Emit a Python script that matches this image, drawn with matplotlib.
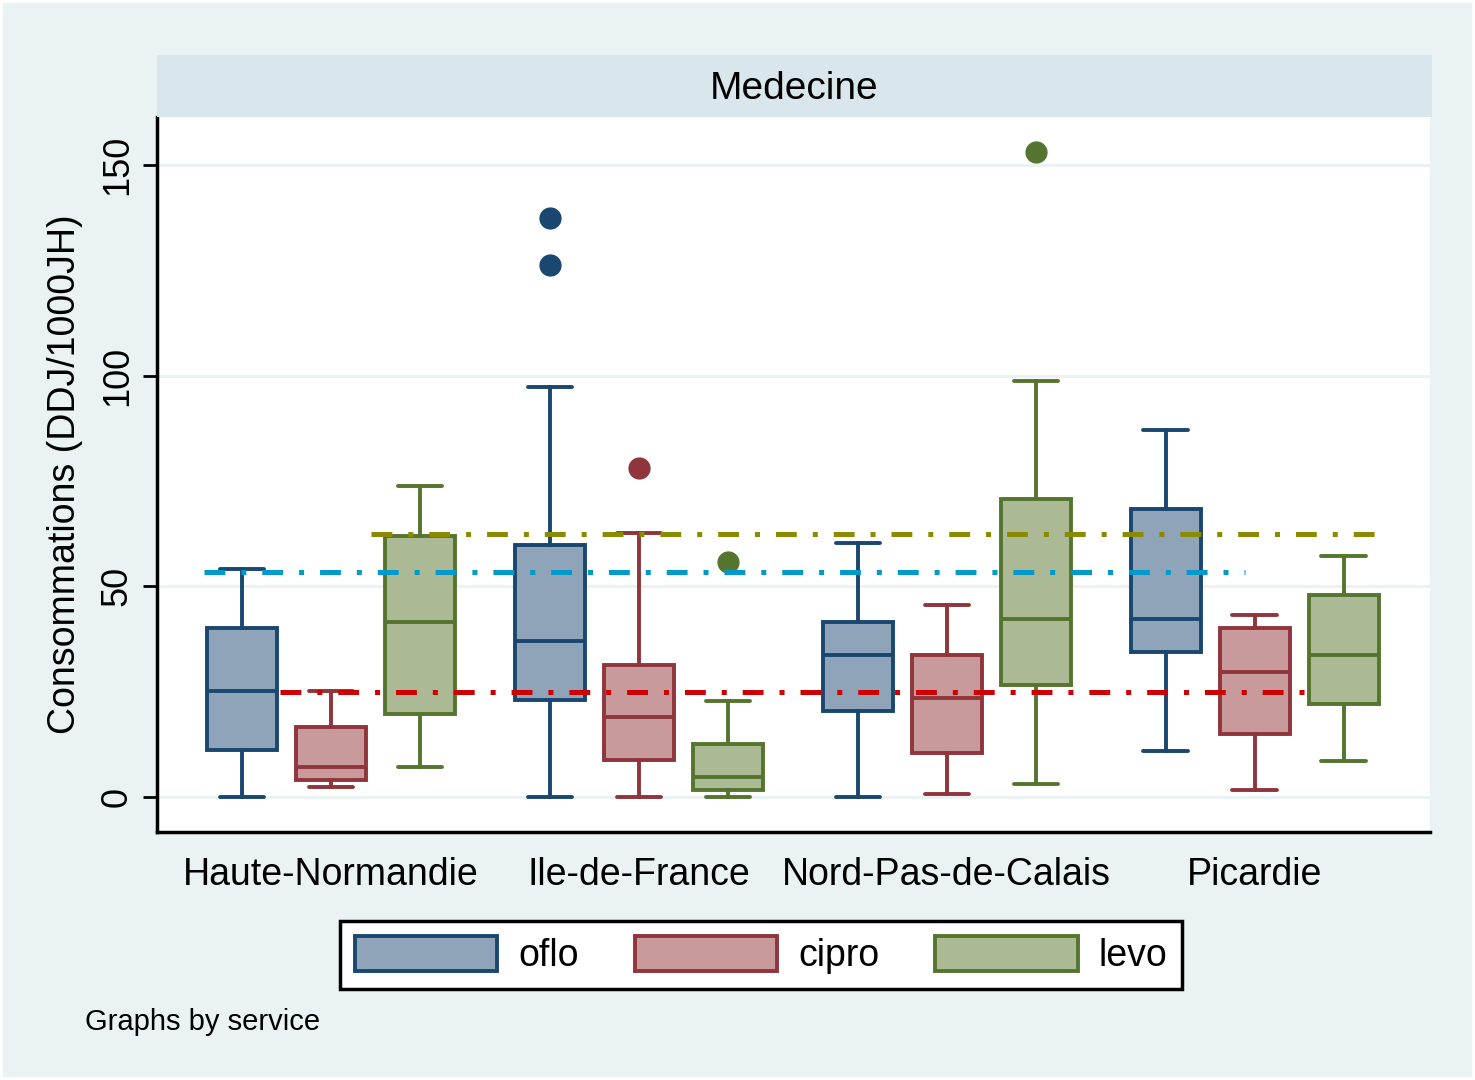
import matplotlib
matplotlib.use("Agg")
import matplotlib.pyplot as plt
from matplotlib.patches import Patch, Rectangle

plt.rcParams['font.family'] = ['Liberation Sans', 'DejaVu Sans']
plt.rcParams['lines.scale_dashes'] = False

# ----- data -----
regions = ['Haute-Normandie', 'Ile-de-France', 'Nord-Pas-de-Calais', 'Picardie']
drugs = ['oflo', 'cipro', 'levo']

# (min whisker, q1, median, q3, max whisker) per region
oflo_stats = [(0, 11.2, 25.2, 40.1, 54.2), (0, 23.0, 37.0, 59.8, 97.3),
              (0, 20.4, 33.7, 41.6, 60.4), (11.0, 34.5, 42.3, 68.3, 87.1)]
cipro_stats = [(2.4, 4.0, 7.1, 16.6, 25.2), (0, 8.8, 19.0, 31.3, 62.7),
               (0.7, 10.4, 23.6, 33.7, 45.5), (1.6, 15.0, 29.7, 40.0, 43.1)]
levo_stats = [(7.1, 19.7, 41.6, 62.0, 73.8), (0, 1.7, 4.7, 12.6, 22.8),
              (3.1, 26.7, 42.3, 70.7, 98.7), (8.6, 22.1, 33.7, 47.9, 57.3)]

oflo_out = [[], [126.3, 137.4], [], []]
cipro_out = [[], [78.1], [], []]
levo_out = [[], [55.8], [153.1], []]

# reference lines: level, start, end (x in box slots)
ref_levels = [62.4, 53.4, 24.9]
ref_start = [0.45, -1.43, -0.57]
ref_end = [11.9, 10.27, 11.11]

# ----- styling -----
edge_cols = ['#1a476f', '#90353b', '#55752f']
fill_cols = ['#8fa3b9', '#c99a9c', '#abb994']
ref_cols = ['#8b8b00', '#0099cc', '#cc0000']
bg = '#eaf2f3'

fig = plt.figure(figsize=(14.75, 10.8), dpi=100, facecolor=bg)
ax = fig.add_axes([157/1475, 1 - 832/1080, 1273/1475, 715/1080])
ax.set_facecolor('white')

group_gap = 3.46
all_stats = [oflo_stats, cipro_stats, levo_stats]
all_out = [oflo_out, cipro_out, levo_out]

for j in range(3):
    stats = []
    pos = []
    for g in range(4):
        lo, q1, med, q3, hi = all_stats[j][g]
        stats.append(dict(whislo=lo, q1=q1, med=med, q3=q3, whishi=hi,
                          fliers=all_out[j][g]))
        pos.append(g * group_gap + (j - 1))
    lw = 2.8
    ax.bxp(stats, positions=pos, widths=0.79, capwidths=0.5, patch_artist=True,
           boxprops=dict(facecolor=fill_cols[j], edgecolor=edge_cols[j], linewidth=lw),
           medianprops=dict(color=edge_cols[j], linewidth=lw),
           whiskerprops=dict(color=edge_cols[j], linewidth=lw),
           capprops=dict(color=edge_cols[j], linewidth=lw, solid_capstyle='round'),
           flierprops=dict(marker='o', markerfacecolor=edge_cols[j],
                           markeredgecolor=edge_cols[j], markersize=15),
           zorder=3)

dash = (0, (15, 11.5, 3.6, 11.5))
for lvl, x0, x1, c in zip(ref_levels, ref_start, ref_end, ref_cols):
    ax.plot([x0, x1], [lvl, lvl], color=c, linewidth=3.6, linestyle=dash,
            dash_capstyle='butt', zorder=4)

ax.set_xlim(-1.955, 12.35)
ax.set_ylim(-8.3, 161.4)
ax.set_yticks([0, 50, 100, 150])
ax.set_yticklabels(['0', '50', '100', '150'], rotation=90, va='center', fontsize=26)
ax.yaxis.grid(True, color=bg, linewidth=2.2)
ax.set_axisbelow(True)
ax.set_xticks([g * group_gap for g in range(4)])
ax.set_xticklabels(regions, fontsize=27)
ax.tick_params(axis='x', length=0, pad=18)
ax.tick_params(axis='y', length=10, width=2, pad=6)
for s in ['top', 'right']:
    ax.spines[s].set_visible(False)
for s in ['left', 'bottom']:
    ax.spines[s].set_linewidth(2.5)
ax.set_ylabel('Consommations (DDJ/1000JH)', fontsize=27, labelpad=12)

# strip header
hax = fig.add_axes([157/1475, 1 - 117/1080, 1275/1475, 62/1080])
hax.set_facecolor('#d9e6eb')
hax.set_xticks([])
hax.set_yticks([])
for s in hax.spines.values():
    s.set_visible(False)
hax.text(0.5, 0.45, 'Medecine', ha='center', va='center', fontsize=28,
         transform=hax.transAxes)

# legend
handles = [Patch(facecolor=fill_cols[j], edgecolor=edge_cols[j], linewidth=2.8)
           for j in range(3)]
leg = fig.legend(handles, drugs, loc='center', bbox_to_anchor=(761/1475, 1 - 955/1080),
                 ncol=3, fontsize=27, frameon=True, fancybox=False,
                 handlelength=3.8, handleheight=1.05, handletextpad=0.55,
                 columnspacing=1.5, borderpad=0.4, borderaxespad=0)
leg.get_frame().set_edgecolor('black')
leg.get_frame().set_linewidth(2.5)
leg.get_frame().set_facecolor('white')
leg.get_frame().set_alpha(1)

fig.text(85/1475, 1 - 1022/1080, 'Graphs by service', fontsize=21, va='center')

fig.patches.append(Rectangle((0, 0), 1, 1, transform=fig.transFigure, fill=False,
                             edgecolor='white', linewidth=4))

fig.savefig('out.png', dpi=100, facecolor=bg)
